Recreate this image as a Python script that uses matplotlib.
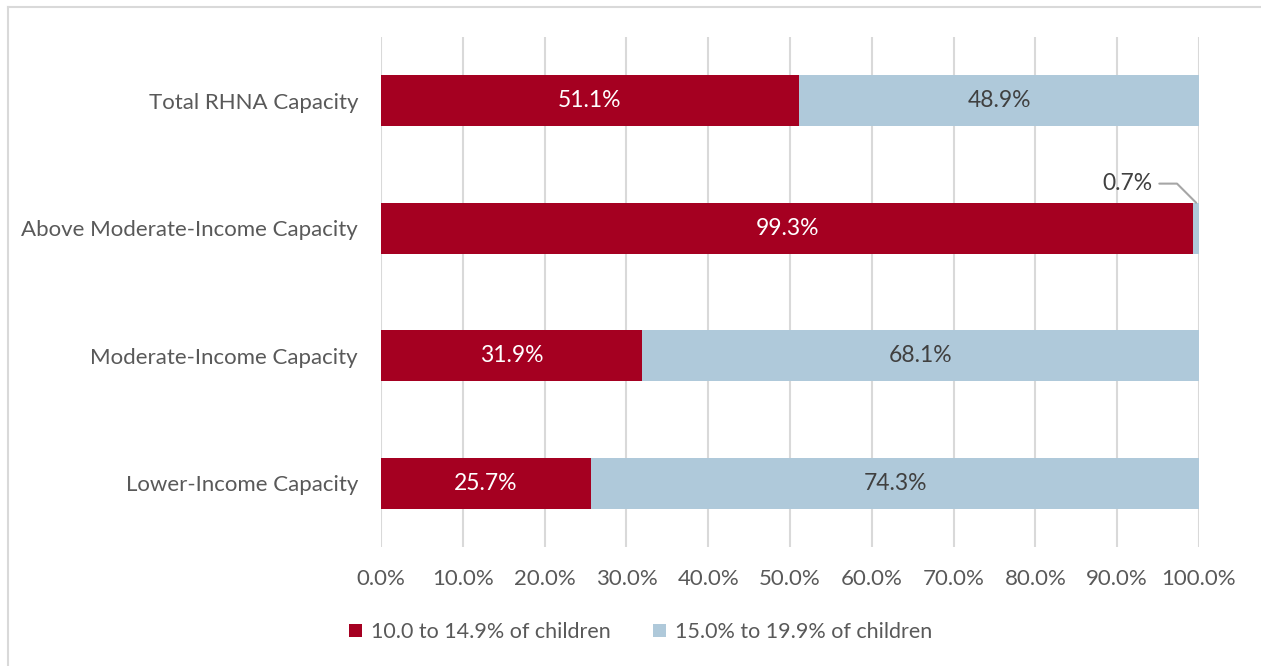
import matplotlib
matplotlib.use("Agg")
import matplotlib.pyplot as plt
from matplotlib.lines import Line2D

categories = ["Lower-Income Capacity", "Moderate-Income Capacity",
              "Above Moderate-Income Capacity", "Total RHNA Capacity"]
series1_name = "10.0 to 14.9% of children"
series2_name = "15.0% to 19.9% of children"
series1 = [25.7, 31.9, 99.3, 51.1]
series2 = [74.3, 68.1, 0.7, 48.9]
xticks = [0, 10, 20, 30, 40, 50, 60, 70, 80, 90, 100]

RED = "#A50021"
BLUE = "#AFC9DA"
GRAY = "#595959"

plt.rcParams['font.family'] = ['Lato', 'DejaVu Sans']

fig = plt.figure(figsize=(12.61, 6.66), dpi=100)
W, H = 1261, 666
ax = fig.add_axes([381 / W, 1 - 547 / H, (1199 - 381) / W, (547 - 37) / H])

y = list(range(len(categories)))
ax.barh(y, series1, height=0.4, color=RED, label=series1_name, zorder=3)
ax.barh(y, series2, left=series1, height=0.4, color=BLUE, label=series2_name, zorder=3)

for i, (a, b) in enumerate(zip(series1, series2)):
    ax.text(a / 2, i, f"{a:.1f}%", ha="center", va="center", color="white", fontsize=16.5, zorder=4)
    if b >= 5:
        ax.text(a + b / 2, i, f"{b:.1f}%", ha="center", va="center", color="#404040", fontsize=16.5, zorder=4)
    else:
        # callout label with leader line
        ax.annotate(f"{b:.1f}%", xy=(a + b / 2, i + 0.2), xytext=(94.3, i + 0.35),
                    textcoords="data", ha="right", va="center", color="#404040", fontsize=16.5,
                    arrowprops=dict(arrowstyle="-", color="#A6A6A6", lw=1.5,
                                    connectionstyle="angle,angleA=0,angleB=135,rad=0",
                                    shrinkA=3, shrinkB=0),
                    zorder=5)

ax.set_xlim(0, 100)
ax.set_ylim(-0.5, 3.5)
ax.set_xticks(xticks)
ax.set_xticklabels([f"{t:.1f}%" for t in xticks])
ax.set_yticks(y)
ax.set_yticklabels(categories)
ax.tick_params(axis="both", length=0, labelsize=16, labelcolor=GRAY)
ax.tick_params(axis="x", pad=16)
ax.tick_params(axis="y", pad=16.5)
ax.grid(axis="x", color="#D9D9D9", lw=1.5, zorder=0)
for s in ax.spines.values():
    s.set_visible(False)

leg = fig.legend(loc="center", bbox_to_anchor=(0.508, 1 - 632 / H), ncol=2, frameon=False,
                 fontsize=15.5, handlelength=0.6, handleheight=0.6, handletextpad=0.4,
                 columnspacing=2.0, labelcolor=GRAY)

# outer border (left and top)
fig.add_artist(Line2D([8 / W, 8 / W], [0, 1 - 7 / H], color="#D9D9D9", lw=1.5, transform=fig.transFigure))
fig.add_artist(Line2D([8 / W, 1], [1 - 7 / H, 1 - 7 / H], color="#D9D9D9", lw=1.5, transform=fig.transFigure))

fig.savefig("out.png", dpi=100)
